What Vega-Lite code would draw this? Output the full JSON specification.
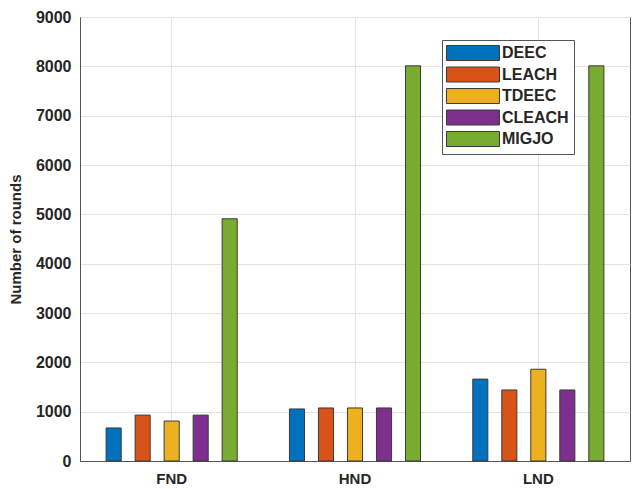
{
  "$schema": "https://vega.github.io/schema/vega-lite/v6.json",
  "autosize": "none",
  "width": 550,
  "height": 444,
  "padding": {"left": 80, "top": 17, "right": 13, "bottom": 28},
  "background": "white",
  "data": {
    "values": [
      {"stage": "FND", "protocol": "DEEC", "rounds": 670},
      {"stage": "FND", "protocol": "LEACH", "rounds": 930},
      {"stage": "FND", "protocol": "TDEEC", "rounds": 810},
      {"stage": "FND", "protocol": "CLEACH", "rounds": 930},
      {"stage": "FND", "protocol": "MIGJO", "rounds": 4910},
      {"stage": "HND", "protocol": "DEEC", "rounds": 1055},
      {"stage": "HND", "protocol": "LEACH", "rounds": 1075},
      {"stage": "HND", "protocol": "TDEEC", "rounds": 1075},
      {"stage": "HND", "protocol": "CLEACH", "rounds": 1075},
      {"stage": "HND", "protocol": "MIGJO", "rounds": 8010},
      {"stage": "LND", "protocol": "DEEC", "rounds": 1660},
      {"stage": "LND", "protocol": "LEACH", "rounds": 1440},
      {"stage": "LND", "protocol": "TDEEC", "rounds": 1860},
      {"stage": "LND", "protocol": "CLEACH", "rounds": 1440},
      {"stage": "LND", "protocol": "MIGJO", "rounds": 8010}
    ]
  },
  "config": {
    "view": {"stroke": "#555555", "strokeWidth": 1},
    "font": "Liberation Sans"
  },
  "mark": {"type": "bar", "stroke": "#3a3a3a", "strokeWidth": 1},
  "encoding": {
    "x": {
      "field": "stage",
      "type": "nominal",
      "sort": ["FND", "HND", "LND"],
      "scale": {"paddingInner": 0, "paddingOuter": 0},
      "axis": {
        "title": null,
        "labelAngle": 0,
        "labelFont": "Liberation Sans",
        "labelFontWeight": "bold",
        "labelFontSize": 15,
        "labelColor": "#262626",
        "labelPadding": 10,
        "domainColor": "#555555",
        "tickColor": "#555555",
        "tickSize": 0,
        "grid": true,
        "gridColor": "#e3e3e3",
        "bandPosition": 0.5
      }
    },
    "xOffset": {
      "field": "protocol",
      "type": "nominal",
      "sort": ["DEEC", "LEACH", "TDEEC", "CLEACH", "MIGJO"],
      "scale": {"paddingInner": 0.48, "paddingOuter": 0.9}
    },
    "y": {
      "field": "rounds",
      "type": "quantitative",
      "scale": {"domain": [0, 9000], "nice": false},
      "axis": {
        "title": "Number of rounds",
        "titleFont": "Liberation Sans",
        "titleFontWeight": "bold",
        "titleFontSize": 15,
        "titleColor": "#262626",
        "titlePadding": 12,
        "values": [0, 1000, 2000, 3000, 4000, 5000, 6000, 7000, 8000, 9000],
        "format": "d",
        "labelFont": "Liberation Sans",
        "labelFontWeight": "bold",
        "labelFontSize": 16,
        "labelColor": "#262626",
        "labelPadding": 9,
        "tickSize": 0,
        "domainColor": "#555555",
        "grid": true,
        "gridColor": "#e3e3e3"
      }
    },
    "fill": {
      "field": "protocol",
      "type": "nominal",
      "sort": ["DEEC", "LEACH", "TDEEC", "CLEACH", "MIGJO"],
      "scale": {
        "domain": ["DEEC", "LEACH", "TDEEC", "CLEACH", "MIGJO"],
        "range": ["#0072BD", "#D95319", "#EDB120", "#7E2F8E", "#77AC30"]
      },
      "legend": {
        "title": null,
        "orient": "none",
        "legendX": 362,
        "legendY": 23,
        "fillColor": "white",
        "strokeColor": "#555555",
        "padding": 5,
        "symbolType": "M-3.53,-1H3.53V1H-3.53Z",
        "symbolSize": 225,
        "symbolOffset": 18,
        "symbolStrokeColor": "#3a3a3a",
        "symbolStrokeWidth": 1,
        "symbolOpacity": 1,
        "labelOffset": 21,
        "labelFont": "Liberation Sans",
        "labelFontWeight": "bold",
        "labelFontSize": 16,
        "labelColor": "#262626",
        "rowPadding": 1.5
      }
    }
  }
}
